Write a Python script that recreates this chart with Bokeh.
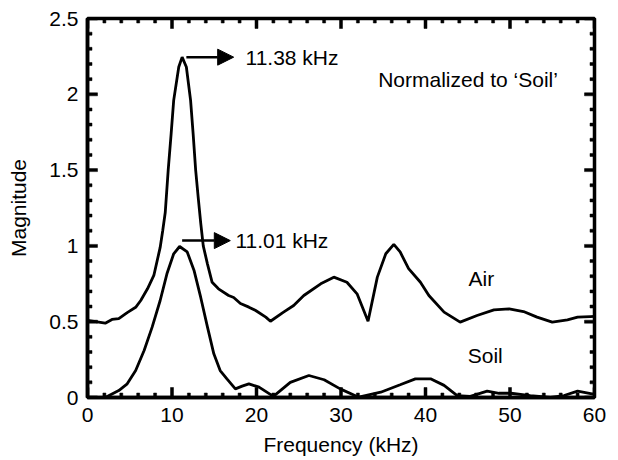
from bokeh.plotting import figure
from bokeh.models import (Range1d, FixedTicker, CustomJSTickFormatter,
                          Arrow, NormalHead, ColumnDataSource)
from bokeh.core.properties import value
from bokeh.embed import file_html
from bokeh.resources import INLINE

# ---- data ----
air_x = [0, 0.95, 2.1, 2.9, 3.7, 4.7, 5.7, 6.3, 7.1, 7.85, 8.6, 8.9, 9.2, 9.55, 9.9, 10.2,
         10.8, 11.2, 11.7, 12.2, 12.5, 12.8, 13.1, 13.4, 13.7, 14.2, 14.75, 15.5, 16.7, 17.3,
         18.1, 19.1, 19.9, 21.1, 21.65, 23.2, 24.4, 25.6, 27.6, 29.15, 30.7, 31.9, 33.2,
         34.3, 35.3, 36.25, 37.0, 38.0, 39.4, 40.4, 42.2, 44.1, 46.1, 48.1, 49.9, 51.6,
         53.2, 55.0, 56.8, 58.0, 59.5, 60]
air_y = [0.508, 0.50, 0.49, 0.515, 0.52, 0.56, 0.595, 0.64, 0.717, 0.805, 0.99, 1.10, 1.22,
         1.50, 1.74, 1.96, 2.18, 2.245, 2.18, 1.96, 1.74, 1.50, 1.32, 1.15, 1.0, 0.88, 0.76,
         0.717, 0.673, 0.66, 0.62, 0.596, 0.574, 0.53, 0.503, 0.563, 0.607, 0.673, 0.75,
         0.794, 0.76, 0.684, 0.503, 0.794, 0.948, 1.01, 0.96, 0.85, 0.76, 0.673, 0.563,
         0.497, 0.541, 0.578, 0.585, 0.567, 0.53, 0.497, 0.512, 0.53, 0.534, 0.535]

soil_x = [0, 2.1, 3.7, 4.7, 5.7, 6.7, 7.65, 8.6, 9.4, 10.2, 10.9, 11.8, 12.6, 13.4, 14.2,
          14.95, 15.7, 16.5, 17.5, 18.3, 19.1, 20.3, 22.0, 24.0, 26.2, 28.0, 29.9, 32.1,
          34.7, 37.0, 38.8, 40.6, 42.2, 43.75, 45.3, 47.3, 48.7, 50.1, 52.4, 54.8, 56.4,
          58.0, 59.7, 60]
soil_y = [0, 0, 0.046, 0.09, 0.178, 0.31, 0.464, 0.64, 0.816, 0.948, 0.996, 0.96, 0.84,
          0.66, 0.464, 0.288, 0.178, 0.123, 0.057, 0.075, 0.09, 0.068, 0.007, 0.10, 0.145,
          0.117, 0.057, 0.002, 0.035, 0.084, 0.123, 0.123, 0.08, 0.013, 0.007, 0.042,
          0.028, 0.028, 0.013, 0.0, 0.013, 0.042, 0.024, 0.024]

x_major = [0.0, 10.0, 20.0, 30.0, 40.0, 50.0, 60.0]
x_minor = [float(v) for v in range(0, 61, 2) if v % 10 != 0]
y_major = [0.0, 0.5, 1.0, 1.5, 2.0, 2.5]
y_minor = [round(v * 0.1, 1) for v in range(0, 26) if v % 5 != 0]

# annotations
label_texts = ["11.38 kHz", "11.01 kHz", "Normalized to \u2018Soil\u2019", "Air", "Soil"]
label_x = [18.7, 17.5, 34.4, 45.1, 45.0]
label_y = [2.245, 1.035, 2.10, 0.785, 0.277]
arrow_x0 = [11.7, 11.2]
arrow_x1 = [17.3, 16.9]
arrow_y = [2.245, 1.035]

FONT = "Liberation Sans"
FS = "21px"
X0, X1, Y0, Y1 = 0.0, 60.0, 0.0, 2.5
W, H = 618, 460
BL, BR, BT, BB = 87, 24, 18, 63

p = figure(width=W, height=H, output_backend="svg", toolbar_location=None,
           x_range=Range1d(X0, X1), y_range=Range1d(Y0, Y1),
           min_border_left=BL, min_border_right=BR, min_border_top=BT, min_border_bottom=BB)
p.grid.visible = False
p.outline_line_color = "black"
p.outline_line_width = 3.5
p.background_fill_color = "white"
p.border_fill_color = "white"

p.line(air_x, air_y, line_color="black", line_width=2.8)
p.line(soil_x, soil_y, line_color="black", line_width=2.8)

# inward ticks on all four sides: filled thin rectangles via quad in data units
ux = (X1 - X0) / (W - BL - BR)
uy = (Y1 - Y0) / (H - BT - BB)
MAJ, MIN, TW = 10, 4.5, 3
ql, qr, qb, qt = [], [], [], []
for xs, L in ((x_major, MAJ), (x_minor, MIN)):
    for xv in xs:
        for ya_, yb_ in ((Y0, Y0 + L * uy), (Y1 - L * uy, Y1)):
            ql.append(xv - TW / 2 * ux); qr.append(xv + TW / 2 * ux)
            qb.append(ya_); qt.append(yb_)
for ys, L in ((y_major, MAJ), (y_minor, MIN)):
    for yv in ys:
        for xa_, xb_ in ((X0, X0 + L * ux), (X1 - L * ux, X1)):
            ql.append(xa_); qr.append(xb_)
            qb.append(yv - TW / 2 * uy); qt.append(yv + TW / 2 * uy)
p.quad(left=ql, right=qr, bottom=qb, top=qt, fill_color="black", line_color="black",
       line_width=0.5)

src = ColumnDataSource(dict(x=label_x, y=label_y, t=label_texts))
p.text(x="x", y="y", text="t", source=src, text_font=value(FONT), text_font_size=FS,
       text_baseline="middle", text_align="left", text_color="black")

asrc = ColumnDataSource(dict(x0=arrow_x0, x1=arrow_x1, y=arrow_y))
p.add_layout(Arrow(end=NormalHead(size=16, fill_color="black", line_color="black"),
                   x_start="x0", y_start="y", x_end="x1", y_end="y", source=asrc,
                   line_color="black", line_width=2.5))

fmt = CustomJSTickFormatter(code="return String(Math.round(tick*10)/10);")


def style(ax):
    ax.axis_line_width = 3.5
    ax.axis_line_color = "black"
    ax.major_tick_in = 0
    ax.major_tick_out = 0
    ax.minor_tick_in = 0
    ax.minor_tick_out = 0
    ax.major_label_text_font = FONT
    ax.major_label_text_font_size = FS
    ax.major_label_text_color = "black"
    ax.axis_label_text_font = FONT
    ax.axis_label_text_font_size = FS
    ax.axis_label_text_font_style = "normal"
    ax.axis_label_text_color = "black"


xa = p.xaxis[0]
xa.ticker = FixedTicker(ticks=x_major)
xa.formatter = fmt
xa.axis_label = "Frequency (kHz)"
style(xa)
xa.major_label_standoff = 10
xa.axis_label_standoff = 8

ya = p.yaxis[0]
ya.ticker = FixedTicker(ticks=y_major)
ya.formatter = fmt
ya.axis_label = "Magnitude"
style(ya)
ya.major_label_standoff = 9
ya.axis_label_standoff = 16

open("out.html", "w").write(file_html(p, INLINE))
